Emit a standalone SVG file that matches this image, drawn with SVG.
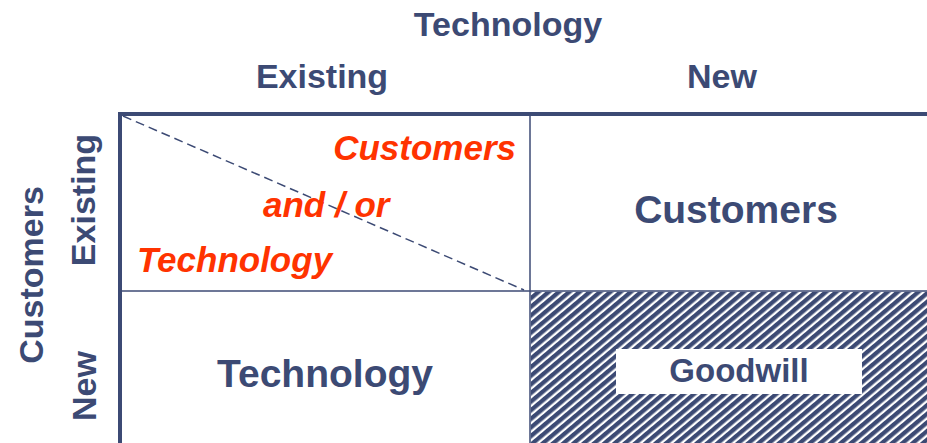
<svg xmlns="http://www.w3.org/2000/svg" width="927" height="443" viewBox="0 0 927 443">
  <style>
    .lbl { font-family: "Liberation Sans", Arial, sans-serif; font-weight: bold; fill: #3C4A74; }
    .red { font-family: "Liberation Sans", Arial, sans-serif; font-weight: bold; font-style: italic; fill: #FF3300; }
    .thick { stroke: #3C4A74; stroke-width: 4; fill: none; }
    .thin { stroke: #3C4A74; stroke-width: 1.5; fill: none; }
  </style>
  <defs>
    <pattern id="hatch" patternUnits="userSpaceOnUse" width="6.6" height="20" patternTransform="rotate(50)">
      <rect x="0" y="0" width="6.6" height="20" fill="#ffffff"/>
      <rect x="0" y="0" width="4.3" height="20" fill="#3C4A74"/>
    </pattern>
  </defs>
  <rect x="0" y="0" width="927" height="443" fill="#ffffff"/>

  <g id="headers">
    <text class="lbl" x="508" y="36" font-size="34" text-anchor="middle">Technology</text>
    <text class="lbl" x="322" y="88" font-size="34" text-anchor="middle">Existing</text>
    <text class="lbl" x="722" y="88" font-size="34" text-anchor="middle">New</text>
    <text class="lbl" font-size="34" text-anchor="middle" transform="translate(43,275) rotate(-90)">Customers</text>
    <text class="lbl" font-size="34" text-anchor="middle" transform="translate(95,200) rotate(-90)">Existing</text>
    <text class="lbl" font-size="34" text-anchor="middle" transform="translate(96,386) rotate(-90)">New</text>
  </g>

  <g id="cell-new-new">
    <rect x="530.75" y="291.75" width="397" height="152" fill="url(#hatch)"/>
    <rect x="616" y="349" width="246" height="45" fill="#ffffff"/>
    <text class="lbl" x="739" y="382" font-size="33" text-anchor="middle">Goodwill</text>
  </g>

  <g id="connectors">
    <line class="thick" x1="120" y1="114" x2="927" y2="114"/>
    <line class="thick" x1="120" y1="112" x2="120" y2="443"/>
    <line class="thin" x1="530" y1="116" x2="530" y2="443"/>
    <line class="thin" x1="122" y1="291" x2="927" y2="291"/>
    <line class="thin" x1="123" y1="116" x2="524" y2="290" stroke-dasharray="9,5"/>
  </g>

  <g id="cell-existing-existing">
    <text class="red" x="516" y="160" font-size="35" text-anchor="end">Customers</text>
    <text class="red" x="263" y="217" font-size="35">and / or</text>
    <text class="red" x="137" y="272" font-size="35">Technology</text>
  </g>

  <g id="cell-existing-new">
    <text class="lbl" x="736" y="223" font-size="39" text-anchor="middle">Customers</text>
  </g>

  <g id="cell-new-existing">
    <text class="lbl" x="325" y="387" font-size="39" text-anchor="middle">Technology</text>
  </g>
</svg>
